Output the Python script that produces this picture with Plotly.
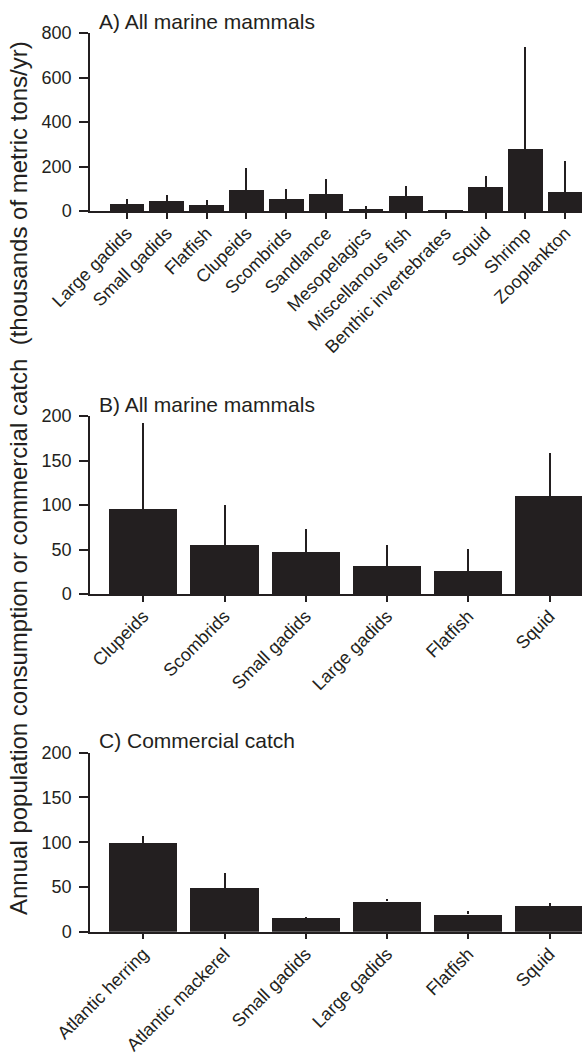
import plotly.graph_objects as go

# Panel A: all prey groups eaten by marine mammals (thousands of metric tons/yr)
prey_a = ["Large gadids", "Small gadids", "Flatfish", "Clupeids", "Scombrids",
          "Sandlance", "Mesopelagics", "Miscellanous fish", "Benthic invertebrates",
          "Squid", "Shrimp", "Zooplankton"]
consumption_a = [31, 47, 26, 96, 55, 76, 7, 67, 1, 110, 279, 84]
error_a = [24, 26, 25, 96, 45, 66, 15, 47, 0, 48, 459, 142]

# Panel B: commercially important prey consumed by marine mammals
prey_b = ["Clupeids", "Scombrids", "Small gadids", "Large gadids", "Flatfish", "Squid"]
consumption_b = [96, 55, 47, 31, 26, 110]
error_b = [96, 45, 26, 24, 25, 48]

# Panel C: commercial fishery catch
prey_c = ["Atlantic herring", "Atlantic mackerel", "Small gadids", "Large gadids",
          "Flatfish", "Squid"]
catch_c = [99, 49, 15.5, 34, 19.3, 28.5]
error_c = [7.5, 16.5, 1.2, 2, 3.7, 3.7]

panel_titles = ["A) All marine mammals", "B) All marine mammals", "C) Commercial catch"]
y_title = "Annual population consumption or commercial catch  (thousands of metric tons/yr)"

INK = "#231f20"
FONT = "Liberation Sans, Arial, Helvetica, sans-serif"
W, H = 582, 1056

fig = go.Figure()


def add_panel(idx, cats, vals, errs, width):
    fig.add_trace(go.Bar(
        x=cats, y=vals, width=width,
        marker=dict(color=INK, line=dict(width=0)),
        error_y=dict(type="data", array=errs, arrayminus=[0] * len(errs),
                     symmetric=False, width=0, thickness=2, color=INK),
        xaxis="x" if idx == 1 else f"x{idx}",
        yaxis="y" if idx == 1 else f"y{idx}",
        showlegend=False,
    ))


add_panel(1, prey_a, consumption_a, error_a, 0.87)
add_panel(2, prey_b, consumption_b, error_b, 0.84)
add_panel(3, prey_c, catch_c, error_c, 0.84)

# plot areas in pixel rows (top, bottom)
rows = [(33, 211), (416, 594), (752.7, 931.7)]
xranges = [[-0.925, 11.42], [-0.656, 5.40], [-0.656, 5.40]]
yranges = [[0, 800], [0, 200], [0, 200]]
ytick_vals = [[0, 200, 400, 600, 800], [0, 50, 100, 150, 200], [0, 50, 100, 150, 200]]

layout = dict(
    template="none",
    width=W, height=H,
    margin=dict(l=0, r=0, t=0, b=0, autoexpand=False),
    paper_bgcolor="white", plot_bgcolor="white",
    font=dict(family=FONT, size=18, color=INK),
    bargap=0,
)

x0 = 90 / W
annotations = []
for i, ((top, bot), xr, yr, tv, title) in enumerate(
        zip(rows, xranges, yranges, ytick_vals, panel_titles), start=1):
    sfx = "" if i == 1 else str(i)
    layout[f"xaxis{sfx}"] = dict(
        domain=[x0, 1], range=xr, anchor=f"y{sfx}", automargin=False,
        showline=True, linecolor=INK, linewidth=1.5,
        ticks="outside", ticklen=6, tickwidth=1.5, tickcolor=INK,
        tickangle=-45, ticklabelstandoff=-3, tickfont=dict(size=18, color=INK),
        showgrid=False, zeroline=False, fixedrange=True,
    )
    layout[f"yaxis{sfx}"] = dict(
        domain=[1 - bot / H, 1 - top / H], range=yr, anchor=f"x{sfx}",
        automargin=False, tickvals=tv, showline=True, linecolor=INK, linewidth=1.5,
        ticks="outside", ticklen=9, tickwidth=1.5, tickcolor=INK,
        ticklabelstandoff=4, tickfont=dict(size=18, color=INK),
        showgrid=False, zeroline=False, fixedrange=True,
    )
    annotations.append(dict(
        text=title, xref="paper", yref="paper",
        x=97 / W, y=1 - (top - 12) / H, xanchor="left", yanchor="middle",
        showarrow=False, font=dict(size=21, color=INK),
    ))

annotations.append(dict(
    text=y_title, xref="paper", yref="paper",
    x=18 / W, y=1 - 478 / H, xanchor="center", yanchor="middle",
    textangle=-90, showarrow=False, font=dict(size=24, color=INK),
))
layout["annotations"] = annotations

fig.update_layout(**layout)
fig.write_html("out.html")
